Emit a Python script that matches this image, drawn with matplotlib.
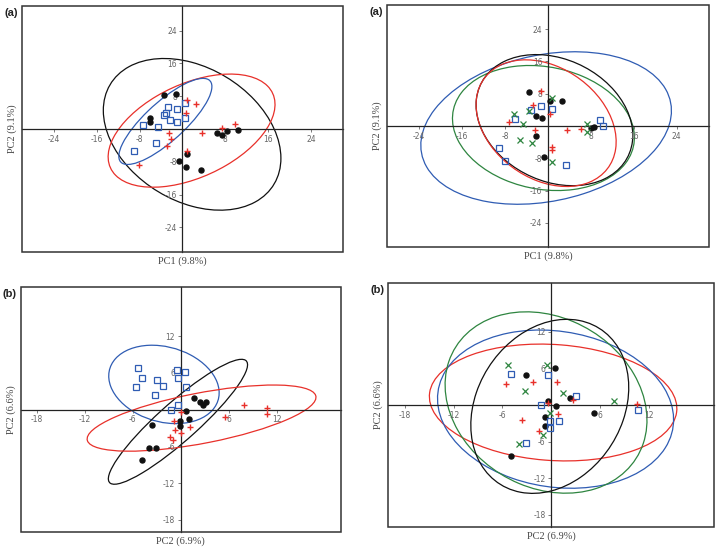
import numpy as np
import matplotlib
matplotlib.use("Agg")
import matplotlib.pyplot as plt
from matplotlib.patches import Ellipse, Rectangle

plt.rcParams['axes.unicode_minus'] = False

# ---- panel (a), left: three groups
black_a1_x = [-3.4, -1.25, -6.1, -6.0, 6.5, 7.3, 8.4, 10.3, 0.9, -0.7, 0.75, 3.4]
black_a1_y = [8.3, 8.6, 2.8, 1.8, -0.9, -1.4, -0.4, -0.25, -6.0, -7.9, -9.3, -9.9]
blue_a1_x = [0.4, -2.8, -1.1, -3.5, -3.1, -2.25, -1.0, 0.45, -7.3, -4.6, -5.0, -9.0]
blue_a1_y = [6.3, 5.3, 4.85, 3.5, 4.0, 2.2, 1.7, 2.6, 0.9, 0.4, -3.4, -5.4]
red_a1_x = [0.9, 2.6, 0.75, -2.6, -2.1, -2.9, 3.6, 7.4, 9.8, 0.9, -8.1]
red_a1_y = [7.0, 6.0, 4.0, -0.9, -2.5, -4.2, -0.9, 0.25, 1.2, -5.3, -8.7]
# ellipses: centre x, centre y, half extent x, half extent y, covariance term
ell_a1_black = [1.8, -1.3, 16.6, 18.5, -97]
ell_a1_red = [1.7, -0.4, 15.6, 13.8, 99.8]
ell_a1_blue = [-3.2, 1.85, 8.7, 10.5, 74]

# ---- panel (a), right: four groups
black_a2_x = [-3.6, 0.3, 2.6, -2.3, -1.1, -2.2, -0.8, 8.1, 8.5]
black_a2_y = [8.4, 6.3, 6.2, 2.5, 1.9, -2.4, -7.8, -0.4, -0.2]
blue_a2_x = [-1.25, 0.7, -3.1, -6.1, 9.7, 10.2, -9.1, -8.0, 3.3]
blue_a2_y = [4.9, 4.1, 4.0, 1.7, 1.4, -0.1, -5.4, -8.6, -9.7]
red_a2_x = [-1.3, -2.8, -7.3, 0.4, -2.5, 3.6, 6.2, 0.75, 0.75]
red_a2_y = [8.6, 5.3, 1.0, 2.9, -1.1, -1.1, -0.8, -5.3, -6.0]
green_a2_x = [0.75, -3.6, -6.3, -4.65, 7.3, 7.2, -5.2, -2.9, 0.75]
green_a2_y = [7.0, 3.7, 2.9, 0.6, 0.4, -1.4, -3.4, -4.1, -9.0]
ell_a2_black = [1.2, 1.45, 14.6, 16.25, -55]
ell_a2_red = [-0.35, 0.7, 13.05, 15.7, -60]
ell_a2_green = [-0.85, -0.5, 16.95, 15.5, -40]
ell_a2_blue = [-0.35, -0.5, 23.35, 18.9, 100]

# ---- panel (b), left
black_b1_x = [1.6, 2.4, 2.8, 3.2, 0.6, 1.0, -0.1, -0.1, -3.6, -4.0, -3.1, -4.9]
black_b1_y = [1.9, 1.2, 0.8, 1.25, -0.3, -1.5, -1.9, -2.7, -2.5, -6.3, -6.3, -8.2]
blue_b1_x = [-5.4, -0.5, 0.5, -4.9, -3.0, -0.4, -2.2, 0.7, -5.6, -3.2, -0.3, -1.2]
blue_b1_y = [6.7, 6.5, 6.2, 5.1, 4.9, 5.1, 3.8, 3.7, 3.6, 2.3, 0.8, 0.0]
red_b1_x = [0.0, -0.8, -0.7, 0.0, 1.1, -1.4, -0.96, 5.5, 7.9, 10.8, 10.8]
red_b1_y = [-0.4, -1.9, -3.4, -3.9, -2.8, -4.5, -4.9, -1.3, 0.8, 0.2, -0.8]
ell_b1_blue = [-2.1, 4.1, 6.9, 6.4, -9.5]
ell_b1_black = [-0.35, -2.0, 8.7, 10.2, 81]
ell_b1_red = [2.6, -1.4, 14.3, 5.4, 48.6]

# ---- panel (b), right
black_b2_x = [0.45, -3.05, -0.37, 0.57, 2.25, 5.25, -0.8, -0.75, -4.9]
black_b2_y = [6.1, 4.9, 0.66, -0.2, 1.15, -1.3, -2.0, -3.5, -8.3]
blue_b2_x = [-4.9, -0.4, 3.0, -1.2, -0.2, 0.95, -0.1, -3.1, 10.6]
blue_b2_y = [5.1, 5.0, 1.4, 0.05, -2.6, -2.7, -3.8, -6.2, -0.9]
red_b2_x = [-5.55, -2.3, 0.65, 2.65, -0.4, 0.85, -3.65, -1.5, 10.5]
red_b2_y = [3.5, 3.8, 3.7, 0.8, 0.3, -1.5, -2.5, -4.3, 0.2]
green_b2_x = [-5.35, -0.5, -3.2, 1.4, 7.65, -0.2, -1.0, -3.9]
green_b2_y = [6.6, 6.55, 2.25, 1.9, 0.65, -1.3, -4.9, -6.35]
ell_b2_red = [0.23, 0.41, 15.2, 9.6, -15]
ell_b2_blue = [0.53, -0.68, 14.5, 13.0, -25]
ell_b2_green = [-0.64, 0.41, 12.4, 14.9, -36]
ell_b2_black = [-0.18, -0.22, 9.7, 14.3, 30]

ticks_a = [-24, -16, -8, 8, 16, 24]
ticks_b = [-18, -12, -6, 6, 12]

BLACK = '#111111'
BLUE = '#2f5cb3'
RED = '#e8302a'
GREEN = '#2e8540'


def draw_ellipse(ax, e, color):
    cx, cy, rx, ry, sxy = e
    cov = np.array([[rx ** 2, sxy], [sxy, ry ** 2]])
    vals, vecs = np.linalg.eigh(cov)
    angle = np.degrees(np.arctan2(vecs[1, 1], vecs[0, 1]))
    ax.add_patch(Ellipse((cx, cy), 2 * np.sqrt(vals[1]), 2 * np.sqrt(vals[0]),
                         angle=angle, fill=False, edgecolor=color, lw=0.9))


def setup(ax, lim, xt, yt, xlabel, ylabel, tag):
    ax.set_xlim(-lim, lim)
    ax.set_ylim(-lim, lim)
    ax.spines['left'].set_position(('data', 0))
    ax.spines['bottom'].set_position(('data', 0))
    ax.spines['top'].set_visible(False)
    ax.spines['right'].set_visible(False)
    for s in ['left', 'bottom']:
        ax.spines[s].set_linewidth(0.9)
        ax.spines[s].set_color('#222222')
    ax.add_patch(Rectangle((0, 0), 1, 1, transform=ax.transAxes, fill=False,
                           lw=1.1, ec='#333333', clip_on=False, zorder=5))
    ax.set_xticks(xt)
    ax.set_yticks(yt)
    ax.xaxis.set_ticks_position('bottom')
    ax.yaxis.set_ticks_position('left')
    ax.tick_params(direction='out', length=2.5, width=0.6, colors='#666666',
                   labelsize=5.5, pad=1.5)
    ax.text(0.5, -0.037, xlabel, transform=ax.transAxes, ha='center', va='center',
            family='Liberation Serif', fontsize=7.5, color='#444444')
    ax.text(-0.03, 0.5, ylabel, transform=ax.transAxes, ha='center', va='center',
            rotation=90, family='Liberation Serif', fontsize=7.5, color='#444444')
    ax.text(-0.034, 0.972, tag, transform=ax.transAxes, ha='center', va='center',
            family='Liberation Sans', fontweight='bold', fontsize=8, color='#222222')


def points(ax, x, y, kind):
    if kind == 'black':
        ax.plot(x, y, 'o', ms=3.6, color=BLACK, mec=BLACK, ls='none', zorder=4)
    elif kind == 'blue':
        ax.plot(x, y, 's', ms=4.2, mfc='none', mec=BLUE, mew=0.9, ls='none', zorder=4)
    elif kind == 'red':
        ax.plot(x, y, '+', ms=5, mec=RED, mew=1.0, ls='none', zorder=4)
    else:
        ax.plot(x, y, 'x', ms=4.3, mec=GREEN, mew=0.9, ls='none', zorder=4)


fig = plt.figure(figsize=(7.22, 5.52), dpi=100)
ax1 = fig.add_axes([0.0305, 0.5435, 0.4445, 0.4456])
ax2 = fig.add_axes([0.536, 0.5525, 0.446, 0.4385])
ax3 = fig.add_axes([0.0287, 0.0362, 0.4433, 0.4438])
ax4 = fig.add_axes([0.538, 0.0458, 0.451, 0.441])

# (a) left
draw_ellipse(ax1, ell_a1_black, BLACK)
draw_ellipse(ax1, ell_a1_red, RED)
draw_ellipse(ax1, ell_a1_blue, BLUE)
points(ax1, black_a1_x, black_a1_y, 'black')
points(ax1, blue_a1_x, blue_a1_y, 'blue')
points(ax1, red_a1_x, red_a1_y, 'red')
setup(ax1, 30, ticks_a, ticks_a, 'PC1 (9.8%)', 'PC2 (9.1%)', '(a)')

# (a) right
draw_ellipse(ax2, ell_a2_blue, BLUE)
draw_ellipse(ax2, ell_a2_green, GREEN)
draw_ellipse(ax2, ell_a2_black, BLACK)
draw_ellipse(ax2, ell_a2_red, RED)
points(ax2, black_a2_x, black_a2_y, 'black')
points(ax2, blue_a2_x, blue_a2_y, 'blue')
points(ax2, red_a2_x, red_a2_y, 'red')
points(ax2, green_a2_x, green_a2_y, 'green')
setup(ax2, 30, ticks_a, ticks_a, 'PC1 (9.8%)', 'PC2 (9.1%)', '(a)')

# (b) left
draw_ellipse(ax3, ell_b1_blue, BLUE)
draw_ellipse(ax3, ell_b1_black, BLACK)
draw_ellipse(ax3, ell_b1_red, RED)
points(ax3, black_b1_x, black_b1_y, 'black')
points(ax3, blue_b1_x, blue_b1_y, 'blue')
points(ax3, red_b1_x, red_b1_y, 'red')
setup(ax3, 20, ticks_b, ticks_b, 'PC2 (6.9%)', 'PC2 (6.6%)', '(b)')

# (b) right
draw_ellipse(ax4, ell_b2_red, RED)
draw_ellipse(ax4, ell_b2_blue, BLUE)
draw_ellipse(ax4, ell_b2_green, GREEN)
draw_ellipse(ax4, ell_b2_black, BLACK)
points(ax4, black_b2_x, black_b2_y, 'black')
points(ax4, blue_b2_x, blue_b2_y, 'blue')
points(ax4, red_b2_x, red_b2_y, 'red')
points(ax4, green_b2_x, green_b2_y, 'green')
setup(ax4, 20, ticks_b, ticks_b, 'PC2 (6.9%)', 'PC2 (6.6%)', '(b)')

plt.savefig("out.png", dpi=100)
plt.close()
